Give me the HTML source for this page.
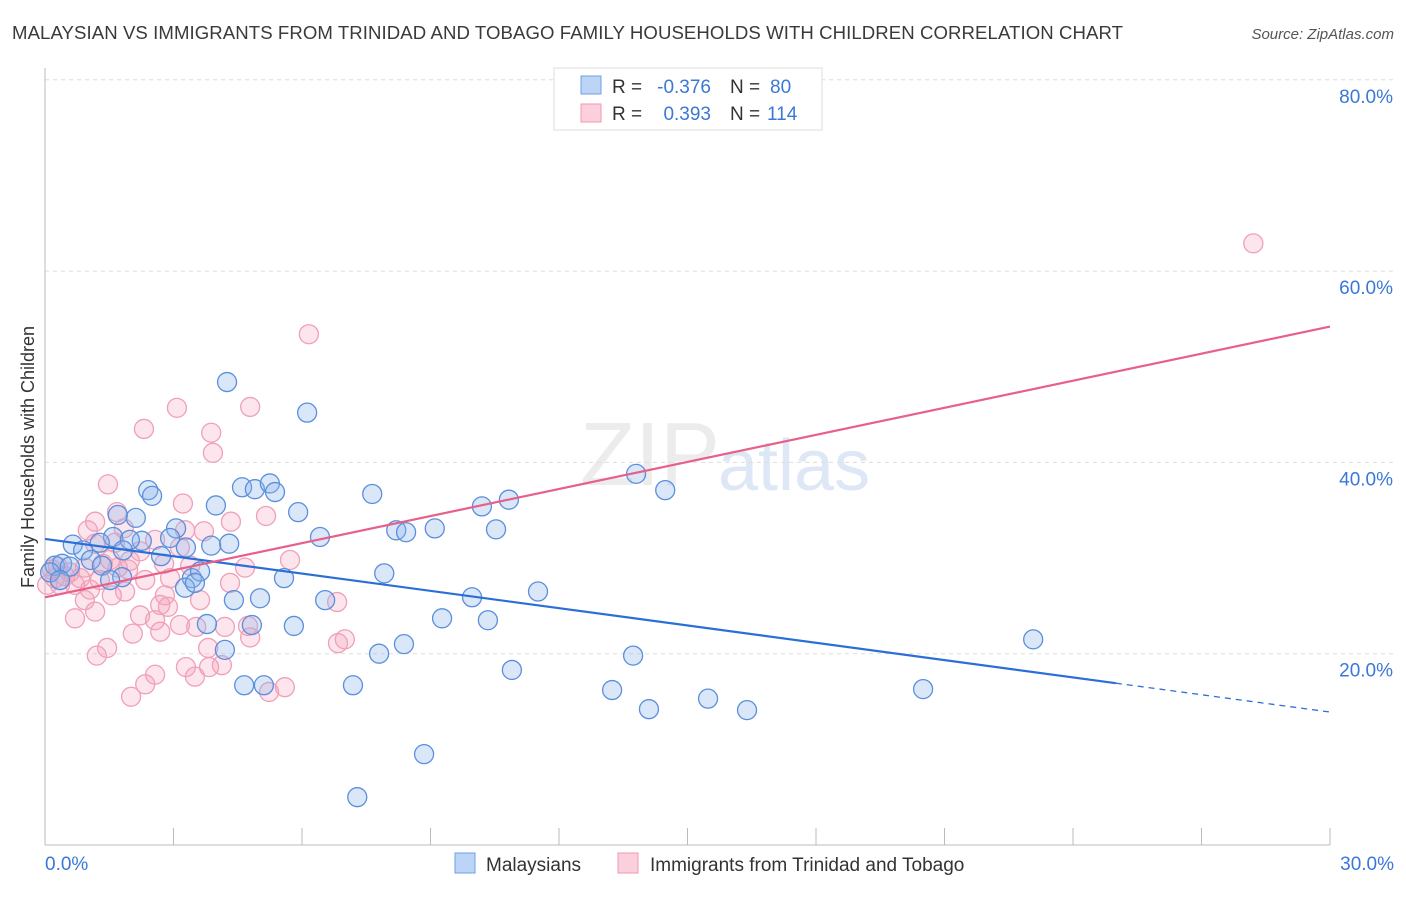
<!DOCTYPE html>
<html><head><meta charset="utf-8"><style>
body{margin:0;background:#fff;font-family:"Liberation Sans",sans-serif}
svg text{font-family:"Liberation Sans",sans-serif}
</style></head><body>
<svg id="c" width="1406" height="892" xmlns="http://www.w3.org/2000/svg">
<text x="12" y="39" font-size="18.6" fill="#3a3a3a" textLength="1111">MALAYSIAN VS IMMIGRANTS FROM TRINIDAD AND TOBAGO FAMILY HOUSEHOLDS WITH CHILDREN CORRELATION CHART</text>
<text x="1394" y="39" font-size="15" fill="#555" text-anchor="end" font-style="italic">Source: ZipAtlas.com</text>
<text x="720" y="485" font-size="90" fill="#ececec" text-anchor="end" font-family="Liberation Serif">ZIP</text>
<text x="718" y="490" font-size="72" fill="#dde7f5">atlas</text>
<g id="grid"></g><g id="pts"></g><g id="lines"></g>
<text transform="translate(34,457) rotate(-90)" font-size="18" fill="#333" text-anchor="middle">Family Households with Children</text>
<g>
<rect x="554" y="68" width="268" height="62" fill="#fff" stroke="#ddd"/>
<rect x="581" y="76" width="20" height="18" fill="#bcd4f5" stroke="#6f9fe0"/>
<rect x="581" y="104" width="20" height="18" fill="#fbd0dc" stroke="#ef9ab2"/>
<text x="612" y="93" font-size="19" fill="#333">R =</text>
<text x="711" y="93" font-size="19" fill="#3a78d8" text-anchor="end">-0.376</text>
<text x="730" y="93" font-size="19" fill="#333">N =</text>
<text x="770" y="93" font-size="19" fill="#3a78d8">80</text>
<text x="612" y="120" font-size="19" fill="#333">R =</text>
<text x="711" y="120" font-size="19" fill="#3a78d8" text-anchor="end">0.393</text>
<text x="730" y="120" font-size="19" fill="#333">N =</text>
<text x="767" y="120" font-size="19" fill="#3a78d8">114</text>
</g>
<g>
<rect x="455" y="853" width="20" height="20" fill="#bcd4f5" stroke="#6f9fe0"/>
<text x="486" y="871" font-size="19" fill="#333">Malaysians</text>
<rect x="618" y="853" width="20" height="20" fill="#fbd0dc" stroke="#ef9ab2"/>
<text x="650" y="871" font-size="19" fill="#333">Immigrants from Trinidad and Tobago</text>
</g>
</svg>
<script>
const blueX=[4.25,6.12,13.8,14.48,2.41,2.5,4.6,4.9,5.25,5.37,7.64,10.83,10.2,3.99,5.91,2.12,1.7,3.06,9.1,8.2,8.43,10.53,6.42,2.92,2.26,1.59,1.98,1.28,0.65,0.89,2.71,3.88,4.3,3.29,1.82,1.07,0.23,0.4,0.58,1.33,1.8,3.43,3.62,5.58,7.92,11.51,9.97,6.54,4.41,5.02,9.27,10.34,5.81,3.78,4.83,4.2,7.8,8.38,13.73,23.07,10.9,4.65,5.11,7.19,13.24,14.1,15.48,16.39,20.5,8.85,7.29,0.12,0.35,1.52,3.27,3.5];
const blueY=[48.4,45.2,38.8,37.1,37.1,36.5,37.4,37.2,37.8,36.9,36.7,36.1,35.4,35.5,34.8,34.2,34.5,33.1,33.1,32.9,32.7,33.0,32.2,32.1,31.8,32.2,31.9,31.6,31.4,30.8,30.2,31.3,31.5,31.1,30.8,29.8,29.2,29.4,29.1,29.2,28.0,27.9,28.6,27.9,28.4,26.5,25.9,25.6,25.6,25.8,23.7,23.5,22.9,23.1,23.0,20.4,20.0,21.0,19.8,21.5,18.3,16.7,16.7,16.7,16.2,14.2,15.3,14.1,16.3,9.5,5.0,28.5,27.7,27.7,26.9,27.4];
const pinkX=[28.21,6.16,3.08,4.79,3.88,2.31,3.92,1.47,3.22,1.68,1.17,5.16,4.34,3.71,3.27,1.84,1.0,1.63,2.22,1.98,1.17,1.35,3.39,2.78,0.82,0.47,0.23,0.35,0.7,1.05,1.28,1.7,1.94,2.34,2.92,4.32,3.62,2.8,2.69,2.87,1.56,1.87,0.93,1.17,0.7,2.22,2.57,3.15,3.53,4.2,2.69,2.05,4.74,4.79,6.82,7.0,6.84,1.21,1.45,2.57,3.29,3.81,4.13,3.5,3.83,2.34,2.01,5.23,5.6,0.05,0.16,0.3,0.58,0.93,1.52,3.15,2.57,4.67,5.72];
const pinkY=[62.9,53.4,45.7,45.8,43.1,43.5,41.0,37.7,35.7,34.8,33.8,34.4,33.8,32.8,32.9,33.1,32.9,31.6,30.7,29.7,31.5,29.4,29.2,29.4,27.9,28.1,27.9,27.2,27.2,26.7,27.7,29.0,28.8,27.7,27.9,27.4,25.6,26.1,25.1,24.9,26.1,26.5,25.6,24.4,23.7,24.0,23.5,23.0,22.8,22.8,22.3,22.1,22.9,21.7,25.4,21.5,21.1,19.8,20.6,17.8,18.6,20.6,18.8,17.6,18.6,16.8,15.5,16.0,16.5,27.2,28.8,29.1,28.5,29.0,29.8,31.1,31.9,29.0,29.8];
const blueTrend=[32.0,13.9]; // y at x=0 and x=30
const pinkTrend=[25.9,54.2];
const yTicks=[20,40,60,80];
const xTicks=[0,3,6,9,12,15,18,21,24,27,30];
const NS="http://www.w3.org/2000/svg";
const X=v=>45+v/30*1285, Y=v=>845-v/20*191.3;
function mk(tag,attrs,parent){const e=document.createElementNS(NS,tag);for(const k in attrs)e.setAttribute(k,attrs[k]);parent.appendChild(e);return e;}
const g=document.getElementById('grid');
yTicks.forEach(t=>{
 const l=mk('line',{x1:45,x2:1394,y1:Y(t),y2:Y(t),stroke:'#ddd','stroke-dasharray':'4,4'},g);
 
 
 const tx=mk('text',{x:1393,y:Y(t)+23,'font-size':19,fill:'#3a78d8','text-anchor':'end'},g);tx.textContent=t.toFixed(1)+'%';
 
 
});
const ax=mk('line',{x1:45,x2:45,y1:68,y2:845,stroke:'#bbb'},g);


const bx=mk('line',{x1:45,x2:1330,y1:845,y2:845,stroke:'#bbb'},g);


xTicks.forEach(t=>{const l=mk('line',{x1:X(t),x2:X(t),y1:828,y2:845,stroke:'#bbb'},g);
 
 });
[[0,'start',45],[30,'end',1394]].forEach(([v,a,x])=>{const t=mk('text',{x:x,y:870,'font-size':19,fill:'#3a78d8','text-anchor':a},g);t.textContent=v.toFixed(1)+'%';
 
 });
const p=document.getElementById('pts');
pinkX.forEach((v,i)=>{const c=mk('circle',{cx:X(v),cy:Y(pinkY[i]),r:9.5,fill:'rgba(246,160,185,0.28)',stroke:'#f0a0b8','stroke-width':1.3},p);
 
 });
blueX.forEach((v,i)=>{const c=mk('circle',{cx:X(v),cy:Y(blueY[i]),r:9.5,fill:'rgba(140,180,235,0.32)',stroke:'#5b8fdc','stroke-width':1.3},p);
 
 });
const L=document.getElementById('lines');
const bAt=x=>blueTrend[0]+(blueTrend[1]-blueTrend[0])*x/30;
const b1=mk('line',{x1:X(0),y1:Y(bAt(0)),x2:X(25),y2:Y(bAt(25)),stroke:'#2b6fd6','stroke-width':2.2},L);


const b2=mk('line',{x1:X(25),y1:Y(bAt(25)),x2:X(30),y2:Y(bAt(30)),stroke:'#2b6fd6','stroke-width':1.3,'stroke-dasharray':'6,5'},L);


const pl=mk('line',{x1:X(0),y1:Y(pinkTrend[0]),x2:X(30),y2:Y(pinkTrend[1]),stroke:'#e8608a','stroke-width':2.2},L);


</script>
</body></html>
